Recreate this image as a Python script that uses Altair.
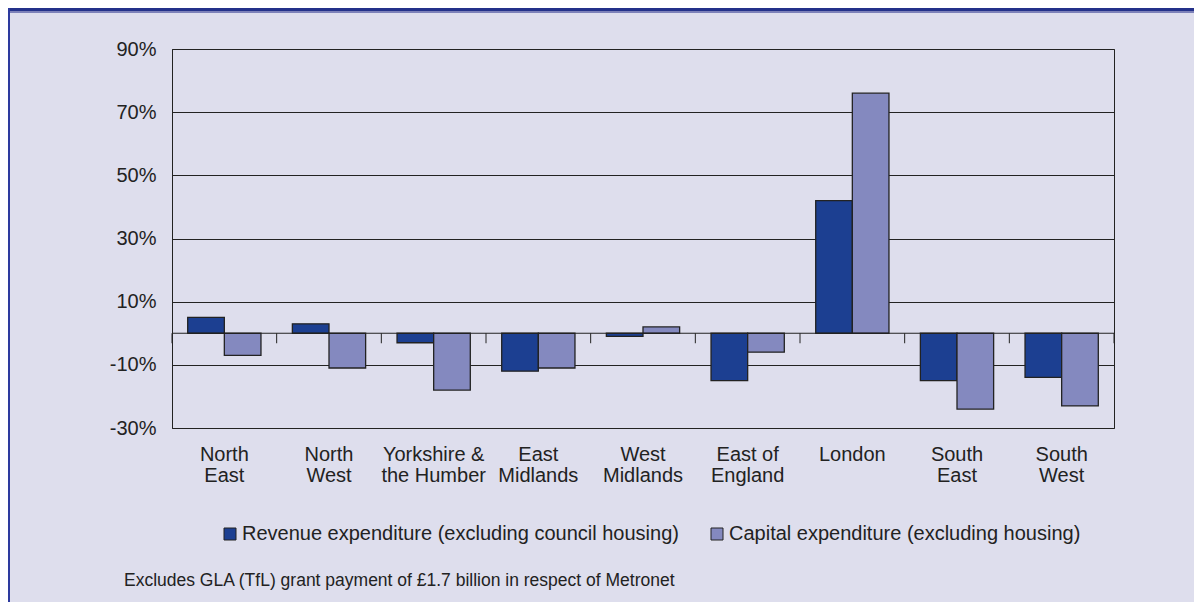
import altair as alt
import pandas as pd

# ---------------- data ----------------
regions = ["North\nEast", "North\nWest", "Yorkshire &\nthe Humber", "East\nMidlands",
           "West\nMidlands", "East of\nEngland", "London", "South\nEast", "South\nWest"]
revenue = [5, 3, -3, -12, -1, -15, 42, -15, -14]
capital = [-7, -11, -18, -11, 2, -6, 76, -24, -23]
series_names = ["Revenue expenditure (excluding council housing)",
                "Capital expenditure (excluding housing)"]
series_colors = ["#1c3f91", "#8489bf"]
y_ticks = [-30, -10, 10, 30, 50, 70, 90]
footnote = "Excludes GLA (TfL) grant payment of £1.7 billion in respect of Metronet"

rows = []
for r, rv, cv in zip(regions, revenue, capital):
    rows.append({"region": r, "series": series_names[0], "value": rv})
    rows.append({"region": r, "series": series_names[1], "value": cv})
df = pd.DataFrame(rows)
bounds = pd.DataFrame({"b": list(range(len(regions) + 1))})

# ---------------- layout ----------------
W, H = 942, 379
PL, PT, PR, PB = 164, 41, 80, 174
FONT = "Liberation Sans, Arial, Helvetica, sans-serif"
INK = "#222222"
BG = "#dedeed"
Y0 = H * 90 / 120  # pixel row of the zero line

yscale = alt.Scale(domain=[-30, 90], nice=False, zero=False)

bars = alt.Chart(df).mark_bar(stroke=INK, strokeWidth=1.3).encode(
    x=alt.X("region:N", sort=regions,
            scale=alt.Scale(paddingInner=0.3, paddingOuter=0.15),
            axis=alt.Axis(title=None, labelAngle=0,
                          labelExpr="split(datum.label, '\\n')",
                          labelFont=FONT, labelFontSize=20, labelColor=INK,
                          labelLineHeight=21, labelPadding=16, ticks=False,
                          domain=False, grid=False, labelBaseline="top")),
    xOffset=alt.XOffset("series:N", sort=series_names,
                        scale=alt.Scale(paddingInner=0, paddingOuter=0)),
    y=alt.Y("value:Q", scale=yscale,
            axis=alt.Axis(title=None, values=y_ticks,
                          labelExpr="datum.value + '%'",
                          grid=True, gridColor=INK, gridWidth=1, gridOpacity=1,
                          ticks=False, domain=True, domainColor=INK, domainWidth=1,
                          labelPadding=16, labelFont=FONT, labelFontSize=20,
                          labelColor=INK)),
    color=alt.Color("series:N", sort=series_names,
                    scale=alt.Scale(domain=series_names, range=series_colors),
                    legend=alt.Legend(title=None, orient="none", direction="horizontal",
                                      columns=2, legendX=48, legendY=475,
                                      symbolType="square", symbolSize=144,
                                      symbolStrokeColor=INK, symbolStrokeWidth=1,
                                      labelFont=FONT, labelFontSize=20, labelColor=INK,
                                      labelOffset=2, columnPadding=28, padding=0,
                                      labelLimit=0)),
)

one = alt.Data(values=[{}])

zero_line = alt.Chart(one).mark_rule(color=INK, strokeWidth=1.2).encode(
    y=alt.Y(datum=0, scale=yscale)
)

cat_ticks = alt.Chart(bounds).mark_rule(color=INK, strokeWidth=1).encode(
    x=alt.X("b:Q", scale=alt.Scale(domain=[0, len(regions)], nice=False, zero=False),
            axis=None),
    y=alt.Y(datum=0, scale=yscale),
    y2=alt.value(Y0 + 10),
)

banner = alt.Chart(one).mark_rect(color="#24318a").encode(
    x=alt.value(-PL), x2=alt.value(W + PR), y=alt.value(-PT), y2=alt.value(-PT + 3)
)
strip = alt.Chart(one).mark_rect(color="#7d81b9").encode(
    x=alt.value(-PL), x2=alt.value(W + PR), y=alt.value(-PT + 3), y2=alt.value(-PT + 5)
)
border = alt.Chart(one).mark_rule(color="#2d3a9e", strokeWidth=2).encode(
    x=alt.value(-PL + 1), y=alt.value(-PT), y2=alt.value(H + PB)
)

note = alt.Chart(one).mark_text(text=footnote, align="left", baseline="alphabetic",
                                font=FONT, fontSize=17.5, color=INK).encode(
    x=alt.value(-48), y=alt.value(537)
)

chart = alt.layer(bars, zero_line, cat_ticks, banner, strip, border, note).resolve_scale(
    x="independent"
).properties(
    width=W, height=H,
    autosize=alt.AutoSizeParams(type="none"),
    padding={"left": PL, "top": PT, "right": PR, "bottom": PB},
    background=BG,
).configure_view(stroke=INK, strokeWidth=1)

chart.save("out.html", embed_options={"renderer": "svg", "actions": False})
